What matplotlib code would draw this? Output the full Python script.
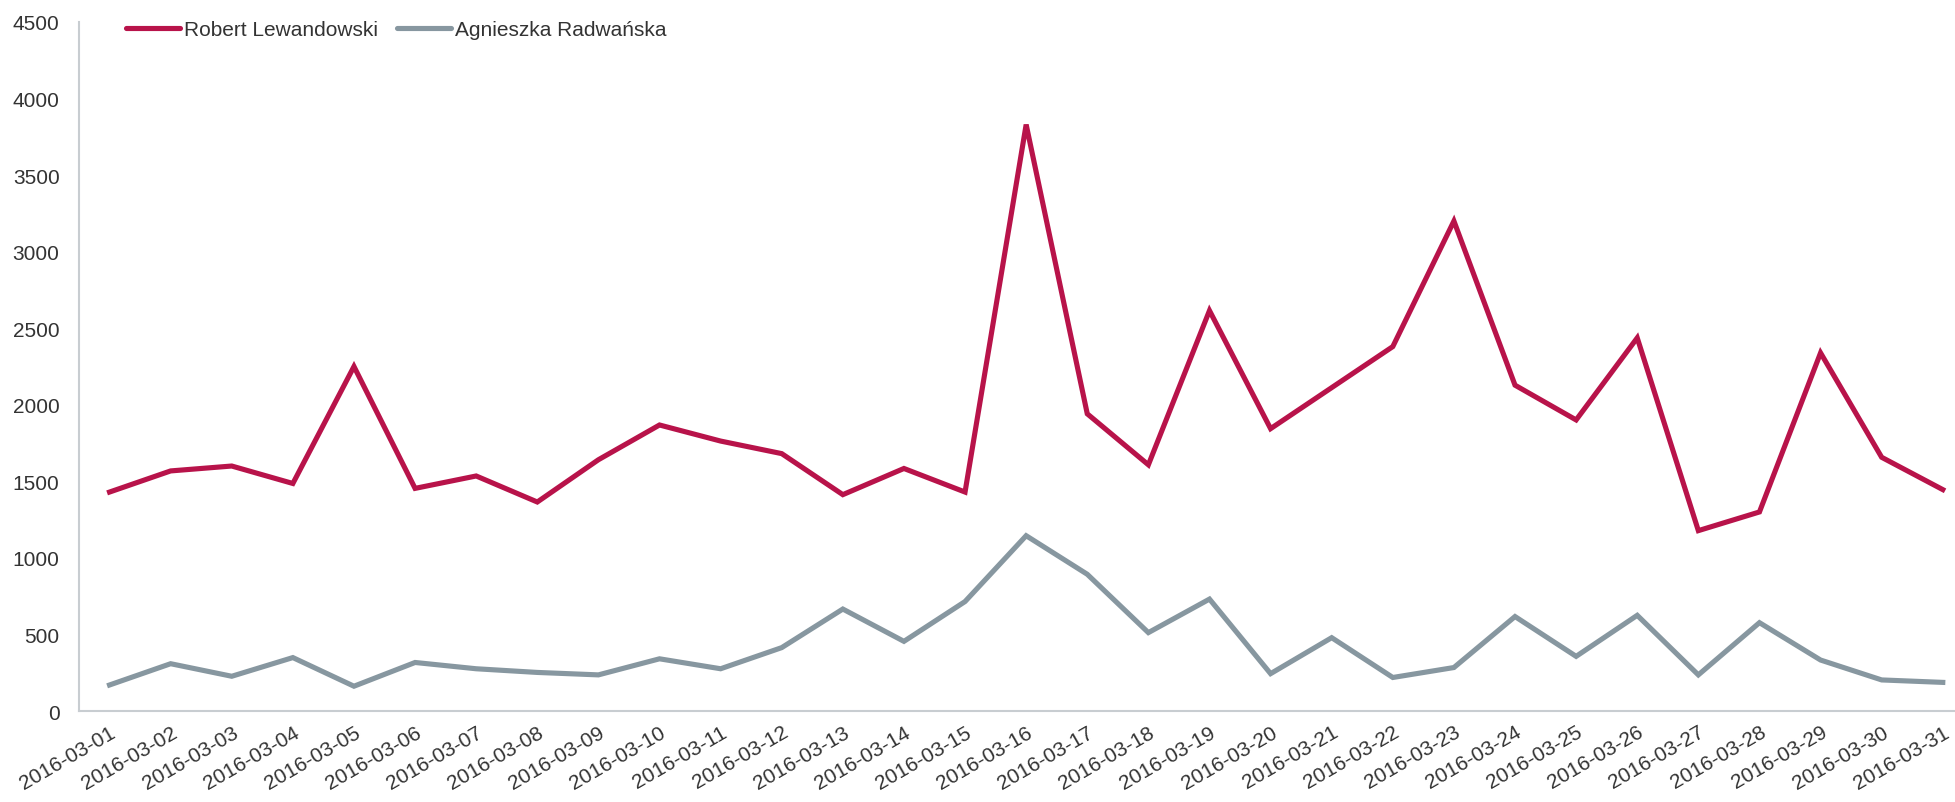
import matplotlib.pyplot as plt

plt.rcParams['font.family'] = ['Liberation Sans', 'DejaVu Sans']

dates = [f"2016-03-{d:02d}" for d in range(1, 32)]

lewandowski = [1430, 1568, 1600, 1486, 2250, 1454, 1535, 1365, 1641, 1868,
               1763, 1681, 1413, 1584, 1430, 3830, 1941, 1608, 2615, 1844,
               2112, 2380, 3200, 2128, 1901, 2437, 1178, 1300, 2339, 1657,
               1446]
radwanska = [170, 309, 227, 349, 162, 317, 276, 252, 236, 341,
             276, 414, 666, 455, 715, 1145, 893, 512, 731, 244,
             479, 219, 284, 617, 357, 625, 236, 577, 333, 203,
             187]

red = "#B8134A"
grey = "#8797A0"
text_col = "#333333"
axis_col = "#C8CDD1"

fig = plt.figure(figsize=(19.55, 8.03), dpi=100)
ax = fig.add_axes([0.0404, 0.1133, 0.9596, 0.8581])

x = list(range(len(dates)))
ax.plot(x, lewandowski, color=red, lw=3.7, solid_joinstyle='miter',
        label="Robert Lewandowski")
ax.plot(x, radwanska, color=grey, lw=3.7, solid_joinstyle='miter',
        label="Agnieszka Radwańska")

ax.set_xlim(-0.5, 30.2)
ax.set_ylim(0, 4500)
ax.set_yticks(range(0, 4501, 500))
ax.set_xticks(x)
ax.set_xticklabels(dates, rotation=30, ha='right', rotation_mode='anchor')

for s in ['top', 'right']:
    ax.spines[s].set_visible(False)
for s in ['left', 'bottom']:
    ax.spines[s].set_color(axis_col)
    ax.spines[s].set_linewidth(1.5)

ax.tick_params(axis='both', length=0, labelsize=15, colors=text_col)
ax.tick_params(axis='y', pad=14)
ax.tick_params(axis='x', pad=8)

leg = ax.legend(loc='upper left', bbox_to_anchor=(0.015, 1.03), ncol=2,
                frameon=False, fontsize=15, handlelength=2.6,
                handletextpad=0.2, columnspacing=0.9)
for t in leg.get_texts():
    t.set_color(text_col)
for h in leg.get_lines():
    h.set_solid_capstyle('round')

fig.savefig("out.png", dpi=100, facecolor='white')
